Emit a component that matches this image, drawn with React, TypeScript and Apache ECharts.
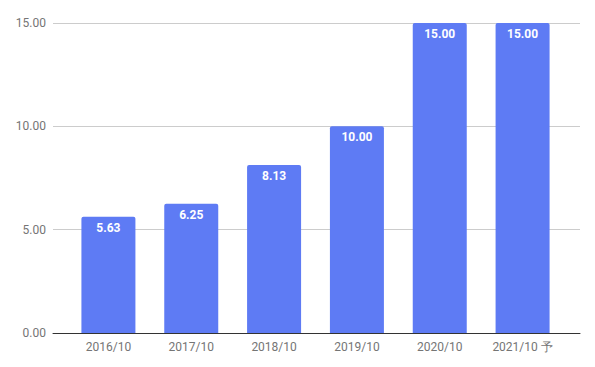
import React, { useEffect, useRef } from "react";
import * as echarts from "echarts";

const categories = ["2016/10", "2017/10", "2018/10", "2019/10", "2020/10", "2021/10 予"];
const values = [5.63, 6.25, 8.13, 10.0, 15.0, 15.0];
const yTicks = { min: 0, max: 15, interval: 5 };

export default function App() {
  const ref = useRef<HTMLDivElement>(null);
  useEffect(() => {
    const chart = echarts.init(ref.current!, null, { renderer: "svg" });
    const font = "Roboto, Arial, sans-serif";
    chart.setOption({
      animation: false,
      backgroundColor: "#ffffff",
      grid: [
        { left: 53, right: 15, top: 23, bottom: 34 },
        { left: 67, right: 31, top: 23, bottom: 34 },
      ],
      xAxis: [
        {
          type: "value",
          gridIndex: 0,
          min: 0,
          max: 1,
          axisLine: { show: true, lineStyle: { color: "#333333", width: 1 } },
          axisTick: { show: false },
          axisLabel: { show: false },
          splitLine: { show: false },
        },
        {
          type: "category",
          gridIndex: 1,
          data: categories,
          axisLine: { show: false },
          axisTick: { show: false },
          axisLabel: { color: "#757575", fontSize: 12, fontFamily: font, margin: 8 },
        },
      ],
      yAxis: [
        {
          type: "value",
          gridIndex: 0,
          min: yTicks.min,
          max: yTicks.max,
          interval: yTicks.interval,
          axisLine: { show: false },
          axisTick: { show: false },
          axisLabel: {
            color: "#757575",
            fontSize: 12,
            fontFamily: font,
            margin: 7,
            formatter: (v: number) => v.toFixed(2),
          },
          splitLine: { lineStyle: { color: "#cccccc", width: 1 } },
        },
        {
          type: "value",
          gridIndex: 1,
          min: yTicks.min,
          max: yTicks.max,
          show: false,
          splitLine: { show: false },
        },
      ],
      series: [
        {
          type: "bar",
          xAxisIndex: 1,
          yAxisIndex: 1,
          data: values,
          barWidth: 54,
          itemStyle: { color: "#5e7bf4", borderRadius: [2, 2, 0, 0] },
          label: {
            show: true,
            position: "insideTop",
            distance: 5,
            color: "#ffffff",
            fontWeight: "bold",
            fontSize: 12,
            fontFamily: font,
            formatter: (p: any) => Number(p.value).toFixed(2),
          },
        },
      ],
    });
    return () => chart.dispose();
  }, []);
  return <div ref={ref} style={{ width: 595, height: 367, position: "absolute", left: 0, top: 0 }} />;
}
